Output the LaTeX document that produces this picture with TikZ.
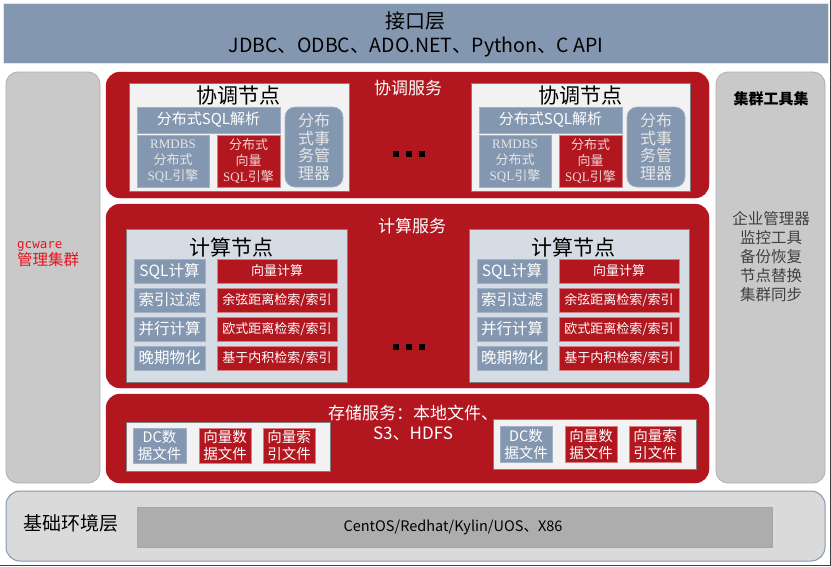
\documentclass[tikz,border=0pt]{standalone}
\usepackage{fontspec}
\setmainfont{Noto Sans CJK SC}
\newfontfamily\lserif{Liberation Serif}
\newfontfamily\lmono{DejaVu Sans Mono}
\definecolor{dred}{HTML}{B2161F}
\definecolor{steel}{HTML}{8497B0}
\definecolor{pgray}{HTML}{C9C9C9}
\definecolor{pgrayb}{HTML}{AFAFAF}
\definecolor{nodebg}{HTML}{F2F2F2}
\definecolor{compbg}{HTML}{D6DCE4}
\definecolor{nodeb}{HTML}{7F7F7F}
\definecolor{basebg}{HTML}{DADADA}
\definecolor{innerbg}{HTML}{ADADAD}
\definecolor{gcred}{HTML}{E5131D}
\definecolor{lighttxt}{HTML}{E6E6E6}
\definecolor{pinktxt}{HTML}{F2D4D4}
\definecolor{listtxt}{HTML}{404040}
\newcommand\fs[2]{\fontsize{#1}{#2}\selectfont}
\tikzset{
  box/.style n args={4}{anchor=north west, at={(#1,#2)},
    minimum width={(#3-#1)*1pt}, minimum height={(#4-#2)*1pt},
    inner sep=0pt, outer sep=0pt, align=center},
  svc/.style={fill=dred, draw=dred, rounded corners=14pt},
  side/.style={fill=pgray, draw=pgrayb, line width=0.8pt, rounded corners=12pt},
  cnode/.style={fill=nodebg, draw=nodeb, line width=1pt},
  knode/.style={fill=compbg, draw=nodeb, line width=1pt},
  bluebox/.style={fill=steel, draw=steel!75!white, line width=0.6pt},
  redbox/.style={fill=dred, draw=dred!55!white, line width=0.6pt},
  sqlbar/.style={bluebox, text=white, font=\fs{15}{18}},
  engine/.style={font=\fs{13}{16}},
  txbox/.style={bluebox, rounded corners=10pt, text=lighttxt, font=\fs{16}{17.5}},
  ctitle/.style={font=\fs{21}{24}, text=black},
  stitle/.style={font=\fs{17}{20}, text=white},
  lcol/.style={bluebox, text=white, font=\fs{15.5}{18}},
  rcol/.style={redbox, text=white, font=\fs{13}{16}},
  sbox/.style={font=\fs{14.5}{17}, text=white},
  dot/.style={fill=black, minimum size=6.5pt, inner sep=0pt, outer sep=0pt}
}
\begin{document}
\begin{tikzpicture}[x=1pt,y=-1pt]
\useasboundingbox (0,0) rectangle (831,566);
\fill[white] (0,0) rectangle (831,566);

% interface layer
\node[box={3}{3}{828}{63}, fill=steel, draw=white!75!steel, line width=1pt] (iface) {};
\node[font=\fs{20}{24}] (ifacetitle) at (415,21) {接口层};
\node[font=\fs{19.5}{23}] (ifaceapi) at (416,47) {JDBC、ODBC、ADO.NET、Python、C API};

% side panels
\node[box={6}{72}{100}{483}, side] (mgmt) {};
\node[anchor=west, align=left, text=gcred, inner sep=0pt] (mgmttext) at (17,254)
  {{\lmono\fs{12.5}{17}gcware}\\{\fs{15.5}{18}管理集群}};
\node[box={716}{72}{825}{483}, side] (tools) {};
\node[font=\fs{15}{18}\bfseries] (toolstitle) at (771,99) {集群工具集};
\node[font=\fs{15.5}{19}, text=listtxt, align=center] (toolslist) at (771,257)
  {企业管理器\\监控工具\\备份恢复\\节点替换\\集群同步};

% service panels
\node[box={106}{72}{709}{198}, svc] (coordsvc) {};
\node[stitle] (coordsvct) at (408,88) {协调服务};
\node[box={106}{204}{709}{388}, svc] (compsvc) {};
\node[stitle] (compsvct) at (412,226) {计算服务};
\node[box={106}{394}{709}{483}, svc] (storsvc) {};
\node[stitle, align=center] (storsvct) at (413,423) {存储服务：本地文件、\\S3、HDFS};

% coordination nodes
\node[box={129}{83}{349}{191}, cnode] (c1) {};
\node[ctitle] (c1t) at (238,96) {协调节点};
\node[box={137}{107}{280}{133}, sqlbar] (c1sql) {分布式SQL解析};
\node[box={137}{135}{209}{187}, bluebox, engine, text=lighttxt] (c1rm) {{\lserif RMDBS}\\分布式\\{\lserif SQL}引擎};
\node[box={217}{135}{280}{187}, redbox, engine, text=pinktxt] (c1vec) {分布式\\向量\\{\lserif SQL}引擎};
\node[box={285}{107}{343}{187}, txbox] (c1tx) {分布\\式事\\务管\\理器};

\node[box={471}{83}{690}{191}, cnode] (c2) {};
\node[ctitle] (c2t) at (580,96) {协调节点};
\node[box={479}{107}{622}{133}, sqlbar] (c2sql) {分布式SQL解析};
\node[box={479}{135}{551}{187}, bluebox, engine, text=lighttxt] (c2rm) {{\lserif RMDBS}\\分布式\\{\lserif SQL}引擎};
\node[box={559}{135}{622}{187}, redbox, engine, text=pinktxt] (c2vec) {分布式\\向量\\{\lserif SQL}引擎};
\node[box={627}{107}{685}{187}, txbox] (c2tx) {分布\\式事\\务管\\理器};

\node[dot] (cd1) at (396,154) {};
\node[dot] (cd2) at (409,154) {};
\node[dot] (cd3) at (422,154) {};

% compute nodes
\node[box={126}{229}{347}{382}, knode] (k1) {};
\node[ctitle] (k1t) at (231,247) {计算节点};
\node[box={134}{259}{205}{283}, lcol] (k1a) {SQL计算};
\node[box={134}{288}{205}{312}, lcol] (k1b) {索引过滤};
\node[box={134}{317}{205}{341}, lcol] (k1c) {并行计算};
\node[box={134}{346}{205}{370}, lcol] (k1d) {晚期物化};
\node[box={217}{259}{337}{283}, rcol] (k1e) {向量计算};
\node[box={217}{288}{337}{312}, rcol] (k1f) {余弦距离检索/索引};
\node[box={217}{317}{337}{341}, rcol] (k1g) {欧式距离检索/索引};
\node[box={217}{346}{337}{370}, rcol] (k1h) {基于内积检索/索引};

\node[box={469}{229}{689}{382}, knode] (k2) {};
\node[ctitle] (k2t) at (573,247) {计算节点};
\node[box={477}{259}{547}{283}, lcol] (k2a) {SQL计算};
\node[box={477}{288}{547}{312}, lcol] (k2b) {索引过滤};
\node[box={477}{317}{547}{341}, lcol] (k2c) {并行计算};
\node[box={477}{346}{547}{370}, lcol] (k2d) {晚期物化};
\node[box={559}{259}{679}{283}, rcol] (k2e) {向量计算};
\node[box={559}{288}{679}{312}, rcol] (k2f) {余弦距离检索/索引};
\node[box={559}{317}{679}{341}, rcol] (k2g) {欧式距离检索/索引};
\node[box={559}{346}{679}{370}, rcol] (k2h) {基于内积检索/索引};

\node[dot] (kd1) at (396,347) {};
\node[dot] (kd2) at (409,347) {};
\node[dot] (kd3) at (422,347) {};

% storage nodes
\node[box={126}{422}{330}{471}, cnode] (s1) {};
\node[box={133}{428}{186}{463}, bluebox, sbox] (s1a) {DC数\\据文件};
\node[box={199}{428}{251}{463}, redbox, sbox] (s1b) {向量数\\据文件};
\node[box={263}{428}{315}{463}, redbox, sbox] (s1c) {向量索\\引文件};

\node[box={493}{419}{696}{469}, cnode] (s2) {};
\node[box={500}{426}{552}{462}, bluebox, sbox] (s2a) {DC数\\据文件};
\node[box={565}{426}{617}{462}, redbox, sbox] (s2b) {向量数\\据文件};
\node[box={629}{426}{681}{462}, redbox, sbox] (s2c) {向量索\\引文件};

% base layer
\node[box={6}{491}{825}{561}, fill=basebg, draw=steel, line width=1pt, rounded corners=14pt] (base) {};
\node[anchor=west, font=\fs{19}{22}, inner sep=0pt] (baset) at (23,523) {基础环境层};
\node[box={137}{507}{772}{547}, fill=innerbg, draw=black!35, line width=0.8pt] (os) {};
\node[font=\fs{14.5}{17}] (ostext) at (453,527) {CentOS/Redhat/Kylin/UOS、X86};

% frame edges
\draw[black!75, line width=1.2pt] (830.4,0) -- (830.4,565.4) -- (0,565.4);
\end{tikzpicture}
\end{document}
